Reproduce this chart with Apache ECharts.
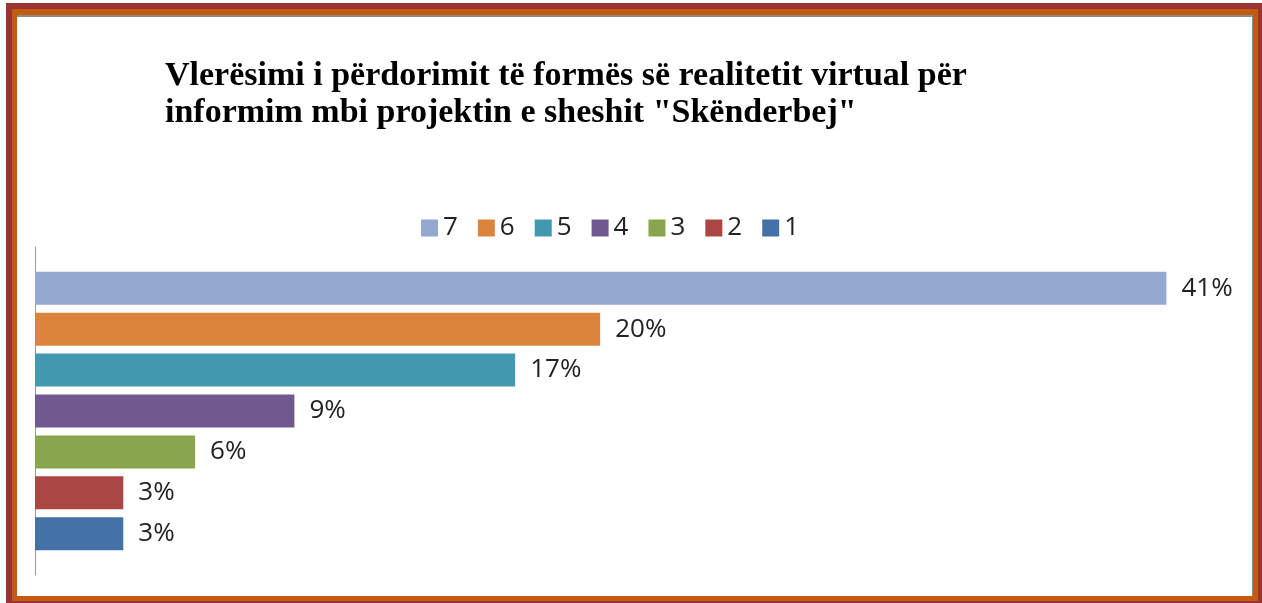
<!DOCTYPE html>
<html>
	<head>
		<meta charset="utf-8" />
		<title></title>
		<script src="https://cdn.jsdelivr.net/npm/echarts@6/dist/echarts.min.js"></script>
		<style>
			html,body{margin:0;padding:0;background:#fff;}
			#dvchart{width:1262px;height:603px;}
		</style>
	</head>
	<body>
		<div id="dvchart"></div>
		<script>
			// te dhenat
			var ratings = ['7', '6', '5', '4', '3', '2', '1'];
			var shares = [0.41, 0.2048, 0.174, 0.094, 0.058, 0.032, 0.032];
			var colors = ['#93A9D0', '#DD843C', '#4399B0', '#71588F', '#89A54E', '#AA4643', '#4472A7'];
			var titleText = 'Vlerësimi i përdorimit të formës së realitetit virtual për\ninformim mbi projektin e sheshit "Skënderbej"';

			var series = [];
			for (var i = 0; i < ratings.length; i++) {
				series.push({
					name: ratings[i],
					type: 'bar',
					data: [shares[i]],
					barWidth: 33,
					barGap: '24%',
					itemStyle: {color: colors[i]},
					label: {
						show: true,
						position: 'right',
						distance: 15,
						color: '#222',
						fontFamily: 'Open Sans',
						fontSize: 26,
						formatter: function(p){ return Math.round(p.value * 100) + '%'; }
					}
				});
			}

			var chart1 = echarts.init(document.getElementById('dvchart'));
			var option1 = {
				animation: false,
				title: {
					text: titleText,
					left: 160,
					top: 53,
					textStyle: {
						fontFamily: 'Liberation Serif',
						fontWeight: 'bold',
						fontSize: 34,
						lineHeight: 37,
						color: '#000'
					}
				},
				legend: {
					data: ratings,
					left: 416,
					top: 210,
					itemWidth: 17,
					itemHeight: 17,
					itemGap: 20,
					icon: 'rect',
					textStyle: {fontFamily: 'Open Sans', fontSize: 26, color: '#222'}
				},
				grid: {left: 35, right: 68, top: 247, bottom: 28},
				xAxis: {
					type: 'value',
					min: 0,
					max: 0.42,
					show: false
				},
				yAxis: {
					type: 'category',
					data: [''],
					inverse: true,
					axisLine: {lineStyle: {color: '#999', width: 1}},
					axisTick: {show: false},
					axisLabel: {show: false}
				},
				graphic: [
					{type: 'rect', z: -10, shape: {x: 6, y: 3, width: 1256, height: 600}, style: {fill: '#983533'}},
					{type: 'rect', z: -9, shape: {x: 12, y: 9, width: 1246, height: 592}, style: {fill: '#C55A11'}},
					{type: 'rect', z: -8, shape: {x: 17, y: 15, width: 1236, height: 581}, style: {fill: '#8C8C8C'}},
					{type: 'rect', z: -7, shape: {x: 17, y: 17, width: 1235, height: 579}, style: {fill: '#fff'}}
				],
				series: series
			};
			chart1.setOption(option1);
		</script>
	</body>
</html>
